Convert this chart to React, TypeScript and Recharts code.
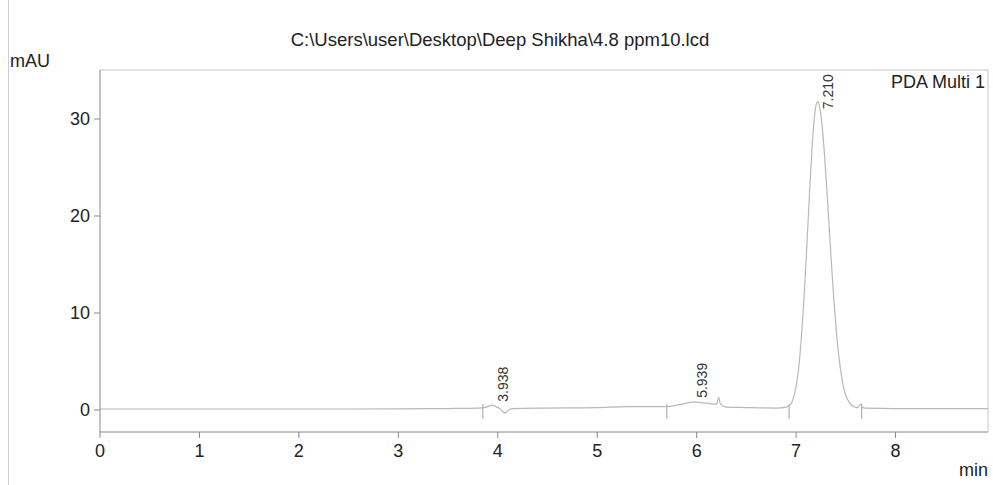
import {
  ComposedChart,
  Line,
  Scatter,
  XAxis,
  YAxis,
  ReferenceLine,
} from "recharts";

const FONT = '"Liberation Sans", Arial, sans-serif';

// chromatogram trace (min, mAU)
const times = [
  0, 0.5, 1, 1.5, 2, 2.5, 3, 3.5, 3.8, 3.86, 3.9, 3.92, 3.94, 3.96, 3.98, 4.02, 4.06, 4.08, 4.1, 4.14,
  4.5, 5, 5.3, 5.5, 5.7, 5.8, 5.9, 5.94, 6, 6.1, 6.2, 6.22, 6.24, 6.3, 6.5, 6.8, 6.9, 6.94, 6.98,
  7.0, 7.02, 7.04, 7.06, 7.08, 7.1, 7.12, 7.14, 7.16, 7.18, 7.2, 7.22, 7.24, 7.26, 7.28, 7.3,
  7.32, 7.34, 7.36, 7.38, 7.4, 7.42, 7.44, 7.46, 7.48, 7.5, 7.54, 7.58, 7.62, 7.65, 7.67, 7.7,
  8, 8.5, 8.93,
];
const signal = [
  0.1, 0.1, 0.1, 0.1, 0.1, 0.1, 0.12, 0.15, 0.2, 0.25, 0.35, 0.45, 0.5, 0.45, 0.35, 0.15, -0.25, -0.3, -0.1, 0.15,
  0.2, 0.25, 0.35, 0.35, 0.35, 0.5, 0.7, 0.8, 0.8, 0.7, 0.6, 1.3, 0.6, 0.3, 0.25, 0.2, 0.3, 0.5, 1.5,
  2.4, 3.8, 5.8, 8.4, 11.6, 15.3, 19.3, 23.3, 26.9, 29.7, 31.4, 31.8, 31.1, 29.5, 27.1, 24.2,
  21.0, 17.6, 14.4, 11.4, 8.7, 6.5, 4.7, 3.3, 2.2, 1.5, 0.7, 0.35, 0.25, 0.6, 0.25, 0.2,
  0.15, 0.15, 0.15,
];

// integration markers
const markerTimes = [3.85, 5.7, 6.93, 7.66];

// peak annotations
const peakTimes = [3.938, 5.939, 7.21];
const peakLabels = ["3.938", "5.939", "7.210"];
const labelLevels = [0.85, 1.25, 31.0];

const yTicks = [0, 10, 20, 30];
const xTicks = [0, 1, 2, 3, 4, 5, 6, 7, 8];

const traceData = times.map((t, i) => ({ t, v: signal[i] }));
const labelData = peakTimes.map((t, i) => ({ t, v: labelLevels[i], label: peakLabels[i] }));

const PeakLabel = (props: any) => {
  const { cx, cy, payload } = props;
  const x = cx + 16;
  return (
    <text
      x={x}
      y={cy}
      transform={`rotate(-90 ${x} ${cy})`}
      textAnchor="start"
      fontSize={14}
      fontFamily={FONT}
      fill="#333"
    >
      {payload.label}
    </text>
  );
};

export default function App() {
  return (
    <div style={{ position: "absolute", left: 0, top: 0, width: 993, height: 485, background: "#fff" }}>
      <div style={{ position: "absolute", left: 8, top: 0, width: 1, height: 485, background: "#cfcfcf" }} />
      <ComposedChart
        width={993}
        height={485}
        margin={{ top: 69, right: 4, left: 0, bottom: 23 }}
        style={{ fontFamily: FONT }}
      >
        <XAxis
          xAxisId="bottom"
          dataKey="t"
          type="number"
          domain={[0, 8.93]}
          ticks={xTicks}
          allowDataOverflow
          height={30}
          stroke="#888"
          tickSize={6}
          tickMargin={6}
          tick={{ fontSize: 18, fill: "#222", fontFamily: FONT }}
        />
        <XAxis xAxisId="top" orientation="top" dataKey="t" type="number" domain={[0, 8.93]} height={1} tick={false} tickLine={false} stroke="#c4c4c4" />
        <YAxis
          yAxisId="left"
          type="number"
          domain={[-2.27, 35.05]}
          ticks={yTicks}
          allowDataOverflow
          width={100}
          stroke="#888"
          tickSize={6}
          tickMargin={4}
          tick={{ fontSize: 18, fill: "#222", fontFamily: FONT }}
        />
        <YAxis yAxisId="right" orientation="right" domain={[-2.27, 35.05]} width={1} tick={false} tickLine={false} stroke="#c4c4c4" />
        {markerTimes.map((m) => (
          <ReferenceLine
            key={m}
            xAxisId="bottom"
            yAxisId="left"
            segment={[{ x: m, y: -0.9 }, { x: m, y: 0.6 }]}
            stroke="#a0a0a0"
            strokeWidth={1}
          />
        ))}
        <Line
          xAxisId="bottom"
          yAxisId="left"
          data={traceData}
          dataKey="v"
          type="monotone"
          stroke="#b8b8b8"
          strokeWidth={1.2}
          dot={false}
          isAnimationActive={false}
        />
        <Scatter
          xAxisId="bottom"
          yAxisId="left"
          data={labelData}
          dataKey="v"
          shape={<PeakLabel />}
          isAnimationActive={false}
        />
        <text x={500} y={46} textAnchor="middle" fontSize={18.5} fontFamily={FONT} fill="#222">
          C:\Users\user\Desktop\Deep Shikha\4.8 ppm10.lcd
        </text>
        <text x={10} y={67} fontSize={18} fontFamily={FONT} fill="#222">
          mAU
        </text>
        <text x={985} y={88} textAnchor="end" fontSize={18} fontFamily={FONT} fill="#222">
          PDA Multi 1
        </text>
        <text x={988} y={476} textAnchor="end" fontSize={18} fontFamily={FONT} fill="#222">
          min
        </text>
      </ComposedChart>
    </div>
  );
}
